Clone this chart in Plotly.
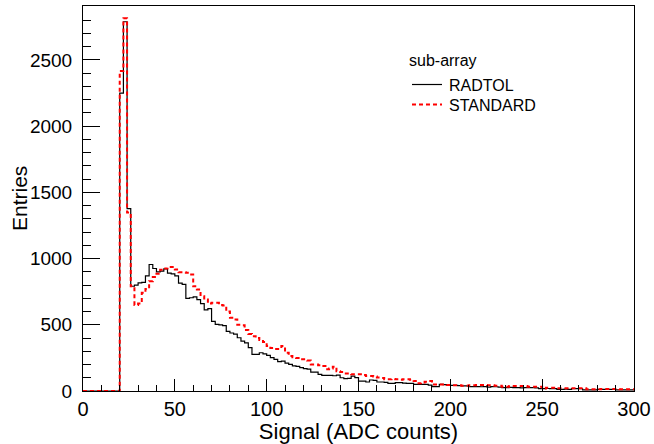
import numpy as np
import plotly.graph_objects as go

# Histogram: 150 bins of width 2 ADC counts from 0 to 300
bin_edges = np.arange(0, 302, 2)

radtol = [
    0, 0, 0, 0, 0, 0, 0, 0, 0, 0,
    2249, 2788, 1377, 791, 800, 817, 820, 870, 955, 925,
    900, 905, 922, 890, 885, 870, 815, 805, 700, 704,
    710, 690, 660, 612, 622, 525, 503, 500, 494, 450,
    438, 430, 402, 377, 364, 327, 277, 277, 289, 280,
    269, 252, 239, 222, 226, 210, 201, 190, 186, 176,
    169, 165, 143, 143, 125, 118, 118, 118, 115, 120,
    100, 93, 95, 113, 101, 75, 75, 68, 83, 80,
    68, 68, 65, 58, 58, 63, 63, 60, 58, 58,
    50, 50, 50, 50, 45, 33, 33, 50, 48, 45,
    43, 43, 40, 38, 38, 33, 33, 33, 32, 33,
    30, 33, 32, 30, 25, 25, 27, 25, 25, 24,
    25, 26, 25, 24, 18, 18, 19, 18, 18, 13,
    13, 14, 13, 18, 18, 17, 8, 8, 9, 8,
    13, 13, 12, 13, 13, 8, 8, 9, 8, 8,
]

standard = [
    0, 0, 0, 0, 0, 0, 0, 0, 0, 0,
    2417, 2814, 1347, 790, 650, 660, 741, 770, 829, 860,
    885, 915, 925, 937, 937, 917, 897, 897, 892, 880,
    790, 766, 716, 690, 660, 666, 666, 650, 646, 600,
    553, 540, 500, 497, 460, 430, 414, 400, 385, 370,
    340, 325, 318, 318, 339, 289, 264, 255, 250, 239,
    239, 230, 201, 201, 195, 188, 164, 170, 184, 150,
    143, 133, 133, 126, 126, 126, 120, 113, 113, 110,
    101, 98, 88, 88, 90, 88, 85, 88, 88, 85,
    75, 58, 65, 70, 75, 50, 50, 50, 50, 45,
    43, 43, 43, 40, 40, 43, 43, 45, 45, 45,
    43, 43, 40, 40, 33, 33, 38, 38, 38, 38,
    38, 33, 33, 33, 33, 18, 25, 25, 25, 20,
    20, 20, 20, 20, 20, 20, 20, 13, 13, 13,
    13, 15, 15, 15, 15, 15, 13, 13, 13, 13,
]

series_names = ["RADTOL", "STANDARD"]
series_colors = ["black", "#ff0000"]
legend_title = "sub-array"
x_title = "Signal (ADC counts)"
y_title = "Entries"

FONT = "Liberation Sans, Arial, Helvetica, sans-serif"

W, H = 654, 444
ML, MR, MT, MB = 83, 20, 6, 53
PW, PH = W - ML - MR, H - MT - MB


def px_x(p):
    return (p - ML) / PW


def px_y(p):
    return (H - MB - p) / PH


def step_y(vals):
    return list(vals) + [vals[-1]]


line_styles = [
    dict(color=series_colors[0], width=1.2),
    dict(color=series_colors[1], width=2, dash="4px,3px"),
]

fig = go.Figure()
for name, vals, ls in zip(series_names, [radtol, standard], line_styles):
    fig.add_trace(go.Scatter(
        x=bin_edges, y=step_y(vals), mode="lines", line_shape="hv",
        name=name, line=ls, showlegend=False,
    ))

# Legend drawn manually (ROOT TLegend style, no border)
annotations = [dict(
    text=legend_title, xref="paper", yref="paper",
    x=px_x(407), y=px_y(60), xanchor="left", yanchor="middle",
    showarrow=False, font=dict(size=16, family=FONT),
)]
shapes = []
for i, (name, ls) in enumerate(zip(series_names, line_styles)):
    ypix = 86 + 20 * i
    annotations.append(dict(
        text=name, xref="paper", yref="paper",
        x=px_x(447), y=px_y(ypix), xanchor="left", yanchor="middle",
        showarrow=False, font=dict(size=16, family=FONT),
    ))
    shapes.append(dict(
        type="line", xref="paper", yref="paper",
        x0=px_x(412), x1=px_x(442), y0=px_y(ypix - 1.5), y1=px_y(ypix - 1.5),
        line=ls,
    ))

# Y axis title (ROOT places it close to the tick labels)
annotations.append(dict(
    text=y_title, xref="paper", yref="paper",
    x=px_x(19), y=px_y(199), xanchor="center", yanchor="middle",
    textangle=-90, showarrow=False, font=dict(size=21, family=FONT),
))

fig.update_layout(
    width=W, height=H,
    margin=dict(l=ML, r=MR, t=MT, b=MB, autoexpand=False),
    paper_bgcolor="white", plot_bgcolor="white",
    font=dict(family=FONT, size=19, color="black"),
    showlegend=False,
    annotations=annotations,
    shapes=shapes,
    xaxis=dict(
        range=[0, 300], showgrid=False, zeroline=False, automargin=False,
        showline=True, linecolor="black", linewidth=1, mirror=True,
        ticks="inside", ticklen=12, tickcolor="black", dtick=50, tick0=0,
        minor=dict(ticks="inside", ticklen=6, dtick=10, tickcolor="black"),
        tickfont=dict(size=20),
        title=dict(text=x_title, font=dict(size=22), standoff=2),
    ),
    yaxis=dict(
        range=[0, 2907], showgrid=False, zeroline=False, automargin=False,
        showline=True, linecolor="black", linewidth=1, mirror=True,
        ticks="inside", ticklen=17, tickcolor="black", dtick=500, tick0=0,
        minor=dict(ticks="inside", ticklen=8, dtick=100, tickcolor="black"),
        tickfont=dict(size=19), ticklabelstandoff=6,
    ),
)

fig.write_html(
    "out.html",
    config={"displayModeBar": False},
    post_script="document.body.style.margin='0';",
)
